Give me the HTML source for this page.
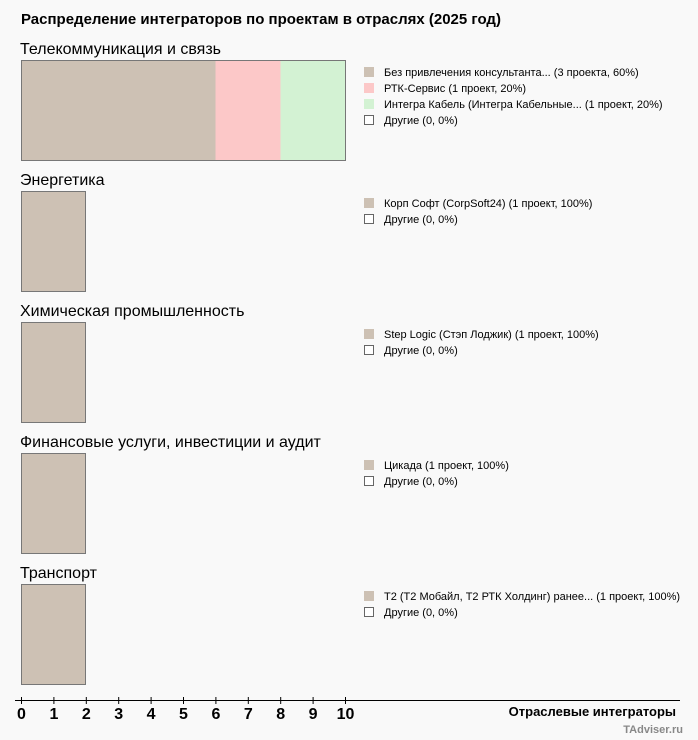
<!DOCTYPE html>
<html><head><meta charset="utf-8"><style>
html,body{margin:0;padding:0;background:#f9f9f9}
svg{display:block;font-family:"Liberation Sans","DejaVu Sans",sans-serif}
.l{font-size:11px;fill:#000}
.h{font-size:16px;fill:#000}
.t{font-size:16px;font-weight:bold}
</style></head><body>
<svg width="698" height="740" viewBox="0 0 698 740">
<rect width="698" height="740" fill="#f9f9f9"/>
<text x="21" y="24" font-size="15" font-weight="bold">Распределение интеграторов по проектам в отраслях (2025 год)</text>

<text class="h" x="20" y="54">Телекоммуникация и связь</text>
<rect x="21.5" y="60.5" width="194" height="100" fill="#cdc1b4"/>
<rect x="215.5" y="60.5" width="65" height="100" fill="#fcc8c8"/>
<rect x="280.5" y="60.5" width="65" height="100" fill="#d3f2d3"/>
<rect x="21.5" y="60.5" width="324" height="100" fill="none" stroke="#777"/>
<rect x="364" y="67" width="10" height="10" fill="#cdc1b4"/>
<text class="l" x="384" y="76">Без привлечения консультанта... (3 проекта, 60%)</text>
<rect x="364" y="83" width="10" height="10" fill="#fcc8c8"/>
<text class="l" x="384" y="92">РТК-Сервис (1 проект, 20%)</text>
<rect x="364" y="99" width="10" height="10" fill="#d3f2d3"/>
<text class="l" x="384" y="108">Интегра Кабель (Интегра Кабельные... (1 проект, 20%)</text>
<rect x="364.5" y="115.5" width="9" height="9" fill="#fff" stroke="#666"/>
<text class="l" x="384" y="124">Другие (0, 0%)</text>

<g transform="translate(0,131)">
<text class="h" x="20" y="54">Энергетика</text>
<rect x="21.5" y="60.5" width="64" height="100" fill="#cdc1b4" stroke="#777"/>
<rect x="364" y="67" width="10" height="10" fill="#cdc1b4"/>
<text class="l" x="384" y="76">Корп Софт (CorpSoft24) (1 проект, 100%)</text>
<rect x="364.5" y="83.5" width="9" height="9" fill="#fff" stroke="#666"/>
<text class="l" x="384" y="92">Другие (0, 0%)</text>
</g>
<g transform="translate(0,262)">
<text class="h" x="20" y="54">Химическая промышленность</text>
<rect x="21.5" y="60.5" width="64" height="100" fill="#cdc1b4" stroke="#777"/>
<rect x="364" y="67" width="10" height="10" fill="#cdc1b4"/>
<text class="l" x="384" y="76">Step Logic (Стэп Лоджик) (1 проект, 100%)</text>
<rect x="364.5" y="83.5" width="9" height="9" fill="#fff" stroke="#666"/>
<text class="l" x="384" y="92">Другие (0, 0%)</text>
</g>
<g transform="translate(0,393)">
<text class="h" x="20" y="54">Финансовые услуги, инвестиции и аудит</text>
<rect x="21.5" y="60.5" width="64" height="100" fill="#cdc1b4" stroke="#777"/>
<rect x="364" y="67" width="10" height="10" fill="#cdc1b4"/>
<text class="l" x="384" y="76">Цикада (1 проект, 100%)</text>
<rect x="364.5" y="83.5" width="9" height="9" fill="#fff" stroke="#666"/>
<text class="l" x="384" y="92">Другие (0, 0%)</text>
</g>
<g transform="translate(0,524)">
<text class="h" x="20" y="54">Транспорт</text>
<rect x="21.5" y="60.5" width="64" height="100" fill="#cdc1b4" stroke="#777"/>
<rect x="364" y="67" width="10" height="10" fill="#cdc1b4"/>
<text class="l" x="384" y="76">Т2 (Т2 Мобайл, Т2 РТК Холдинг) ранее... (1 проект, 100%)</text>
<rect x="364.5" y="83.5" width="9" height="9" fill="#fff" stroke="#666"/>
<text class="l" x="384" y="92">Другие (0, 0%)</text>
</g>

<line x1="15" y1="700.5" x2="680" y2="700.5" stroke="#000"/>
<g stroke="#000">
<line x1="21.5" y1="697" x2="21.5" y2="704"/><line x1="53.9" y1="697" x2="53.9" y2="704"/>
<line x1="86.3" y1="697" x2="86.3" y2="704"/><line x1="118.7" y1="697" x2="118.7" y2="704"/>
<line x1="151.1" y1="697" x2="151.1" y2="704"/><line x1="183.5" y1="697" x2="183.5" y2="704"/>
<line x1="215.9" y1="697" x2="215.9" y2="704"/><line x1="248.3" y1="697" x2="248.3" y2="704"/>
<line x1="280.7" y1="697" x2="280.7" y2="704"/><line x1="313.1" y1="697" x2="313.1" y2="704"/>
<line x1="345.5" y1="697" x2="345.5" y2="704"/>
</g>
<g class="t" text-anchor="middle">
<text x="21.5" y="719">0</text><text x="53.9" y="719">1</text><text x="86.3" y="719">2</text>
<text x="118.7" y="719">3</text><text x="151.1" y="719">4</text><text x="183.5" y="719">5</text>
<text x="215.9" y="719">6</text><text x="248.3" y="719">7</text><text x="280.7" y="719">8</text>
<text x="313.1" y="719">9</text><text x="345.5" y="719">10</text>
</g>
<text x="676" y="716" text-anchor="end" font-size="13" font-weight="bold">Отраслевые интеграторы</text>
<text x="683" y="733" text-anchor="end" font-size="11" font-weight="bold" fill="#888">TAdviser.ru</text>
</svg>
</body></html>
